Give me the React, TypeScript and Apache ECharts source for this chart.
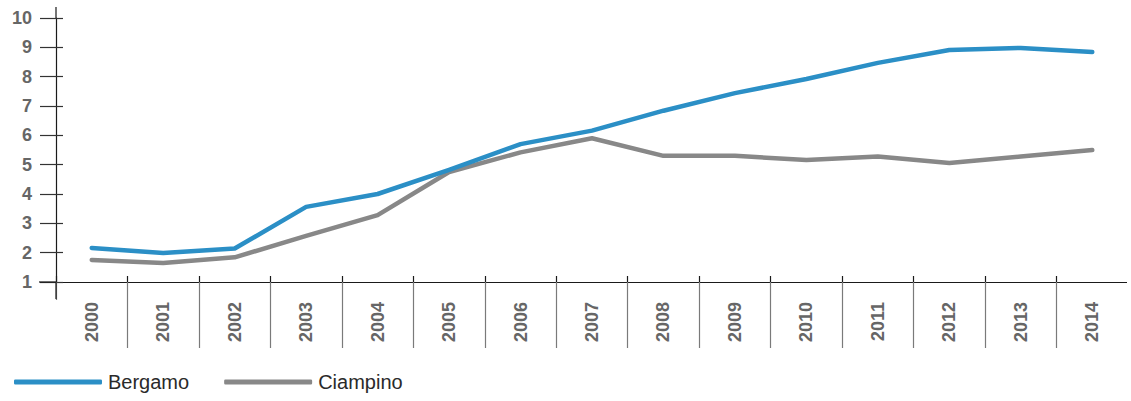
import React, { useEffect, useRef } from "react";
import * as echarts from "echarts";

const years = ["2000","2001","2002","2003","2004","2005","2006","2007","2008","2009","2010","2011","2012","2013","2014"];
const bergamo = [2.16, 1.99, 2.14, 3.56, 4.0, 4.82, 5.7, 6.16, 6.84, 7.44, 7.92, 8.47, 8.91, 8.98, 8.84];
const ciampino = [1.75, 1.65, 1.84, 2.57, 3.28, 4.75, 5.42, 5.9, 5.3, 5.3, 5.16, 5.28, 5.06, 5.28, 5.5];
const yTicks = { min: 1, max: 10, interval: 1 };

const FONT = "'Liberation Sans', Arial, Helvetica, sans-serif";

export default function App() {
  const ref = useRef<HTMLDivElement>(null);
  useEffect(() => {
    if (!ref.current) return;
    const chart = echarts.init(ref.current, null, { renderer: "svg" });
    const gridLeft = 56, gridTop = 18, gridBottom = 119, gridRight = 3;
    const axisY = 401 - gridBottom;
    chart.setOption({
      animation: false,
      grid: { left: gridLeft, right: gridRight, top: gridTop, bottom: gridBottom, containLabel: false },
      xAxis: [
        {
          type: "category",
          data: years,
          boundaryGap: true,
          axisLine: { show: true, lineStyle: { color: "#1a1a1a", width: 1.2 } },
          axisTick: {
            show: true,
            length: 66,
            interval: 0,
            lineStyle: { color: "#7a7a7a", width: 1.2 },
          },
          axisLabel: {
            rotate: 90,
            margin: 20,
            color: "#666666",
            fontSize: 18,
            fontWeight: "bold",
            fontFamily: FONT,
          },
          splitLine: { show: false },
        },
        {
          type: "category",
          data: years,
          position: "bottom",
          boundaryGap: true,
          axisLine: { show: false },
          axisTick: { show: true, inside: true, length: 6, interval: 0, lineStyle: { color: "#1a1a1a", width: 1.2 } },
          axisLabel: { show: false },
          splitLine: { show: false },
        },
      ],
      yAxis: [
        {
          type: "value",
          min: yTicks.min,
          max: yTicks.max,
          interval: yTicks.interval,
          axisLine: { show: true, lineStyle: { color: "#1a1a1a", width: 1.2 } },
          axisTick: { show: true, length: 16, lineStyle: { color: "#333333", width: 1.2 } },
          axisLabel: {
            margin: 24,
            color: "#666666",
            fontSize: 18,
            fontWeight: "bold",
            fontFamily: FONT,
          },
          splitLine: { show: false },
        },
        {
          type: "value",
          position: "left",
          min: yTicks.min,
          max: yTicks.max,
          interval: yTicks.interval,
          axisLine: { show: false },
          axisTick: { show: true, inside: true, length: 7, lineStyle: { color: "#333333", width: 1.2 } },
          axisLabel: { show: false },
          splitLine: { show: false },
        },
      ],
      legend: {
        left: 14,
        top: 372,
        padding: 0,
        icon: "roundRect",
        itemWidth: 88,
        itemHeight: 5,
        itemGap: 35,
        textStyle: { color: "#2a2a2a", fontSize: 20, fontFamily: FONT, padding: [0, 0, 0, 1] },
        data: ["Bergamo", "Ciampino"],
      },
      graphic: [
        { type: "line", z: 10, shape: { x1: 39, y1: axisY, x2: gridLeft, y2: axisY }, style: { stroke: "#1a1a1a", lineWidth: 1.2 } },
        { type: "line", z: 10, shape: { x1: gridLeft, y1: 7, x2: gridLeft, y2: gridTop }, style: { stroke: "#1a1a1a", lineWidth: 1.2 } },
        { type: "line", z: 10, shape: { x1: gridLeft, y1: axisY, x2: gridLeft, y2: 299 }, style: { stroke: "#1a1a1a", lineWidth: 1.2 } },
        { type: "rect", z: 20, shape: { x: gridLeft - 1, y: 300, width: 3, height: 50 }, style: { fill: "#ffffff" } },
        { type: "rect", z: 20, shape: { x: 1131 - gridRight - 1, y: 276, width: 5, height: 80 }, style: { fill: "#ffffff" } },
      ],
      series: [
        {
          name: "Bergamo",
          type: "line",
          data: bergamo,
          symbol: "none",
          lineStyle: { color: "#2b8fc6", width: 4.5, cap: "round", join: "round" },
          itemStyle: { color: "#2b8fc6" },
          z: 3,
        },
        {
          name: "Ciampino",
          type: "line",
          data: ciampino,
          symbol: "none",
          lineStyle: { color: "#888888", width: 4.5, cap: "round", join: "round" },
          itemStyle: { color: "#888888" },
          z: 2,
        },
      ],
    });
    return () => chart.dispose();
  }, []);
  return <div ref={ref} style={{ width: 1131, height: 401, position: "absolute", left: 0, top: 0 }} />;
}
